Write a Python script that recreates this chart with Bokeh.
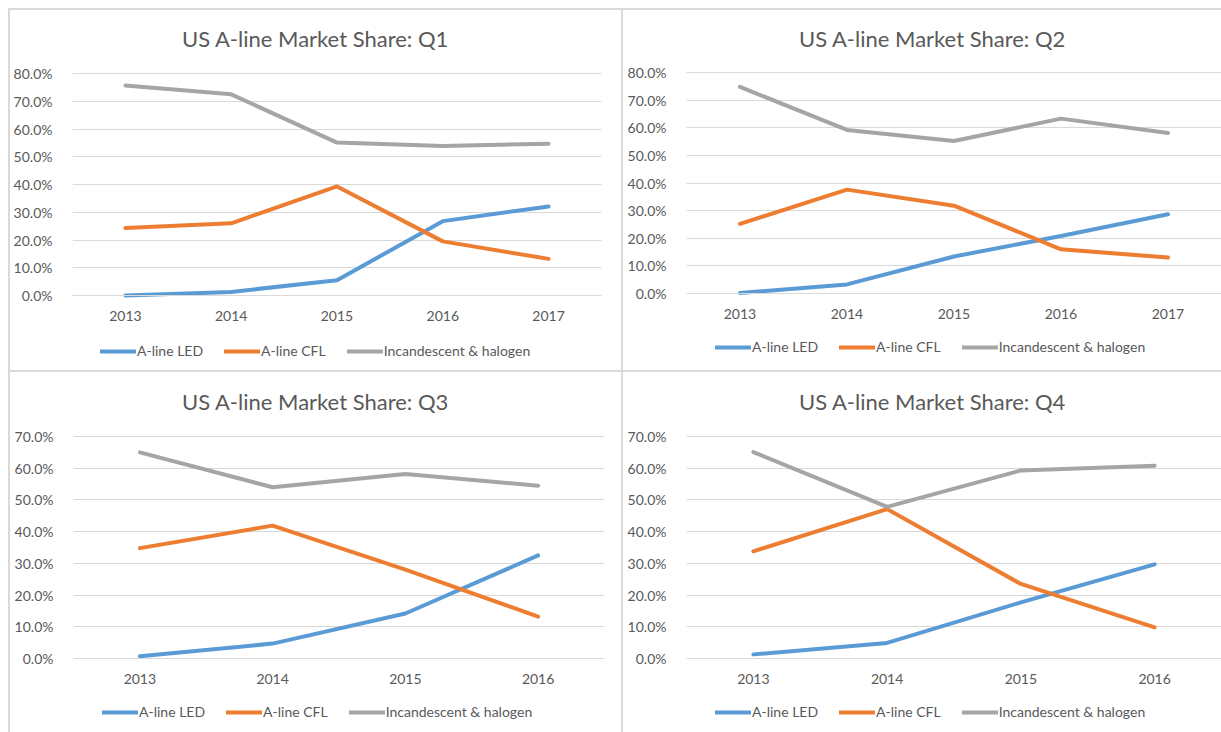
from bokeh.plotting import figure
from bokeh.layouts import column, row, Spacer
from bokeh.models import (Range1d, FactorRange, FixedTicker, PrintfTickFormatter,
                          Legend, LegendItem, Label)
from bokeh.embed import file_html
from bokeh.resources import INLINE

# ---------------- data ----------------
years_q12 = ["2013", "2014", "2015", "2016", "2017"]
years_q34 = ["2013", "2014", "2015", "2016"]

series_names = ["A-line LED", "A-line CFL", "Incandescent & halogen"]
series_colors = ["#5B9BD5", "#ED7D31", "#A5A5A5"]

q1_led = [0.0, 1.3, 5.5, 26.8, 32.1]
q1_cfl = [24.3, 26.0, 39.3, 19.5, 13.2]
q1_inc = [75.7, 72.5, 55.1, 53.9, 54.7]

q2_led = [0.2, 3.3, 13.4, 20.8, 28.7]
q2_cfl = [25.2, 37.6, 31.8, 16.0, 13.0]
q2_inc = [74.8, 59.2, 55.2, 63.3, 58.1]

q3_led = [0.7, 4.7, 14.2, 32.5]
q3_cfl = [34.8, 41.9, 28.0, 13.2]
q3_inc = [65.0, 54.0, 58.2, 54.5]

q4_led = [1.3, 4.9, 17.7, 29.7]
q4_cfl = [33.8, 47.1, 23.5, 9.8]
q4_inc = [65.1, 47.8, 59.3, 60.8]

y_ticks_80 = [0, 10, 20, 30, 40, 50, 60, 70, 80]
y_ticks_70 = [0, 10, 20, 30, 40, 50, 60, 70]

TEXT = "#595959"
GRID = "#D9D9D9"
FONT = "Lato"


def panel(title, years, series, yticks, w, h, bl, br, grid_top, grid_bottom,
          title_xy, legend_xy):
    # the frame spans the full height; the y range is chosen so that the
    # gridlines (ticks) sit where they do in the original
    ymax = yticks[-1]
    ppu = (grid_bottom - grid_top) / ymax
    y0 = -(h - grid_bottom) / ppu
    y1 = ymax + grid_top / ppu
    p = figure(width=w, height=h, x_range=FactorRange(factors=years),
               y_range=Range1d(y0, y1), output_backend="svg", title=None,
               toolbar_location=None, min_border_left=bl, min_border_right=br,
               min_border_top=0, min_border_bottom=0)
    p.outline_line_color = None
    p.background_fill_color = "white"
    p.border_fill_color = "white"
    p.xgrid.grid_line_color = None
    p.ygrid.grid_line_color = GRID
    p.ygrid.grid_line_width = 1
    p.yaxis.ticker = FixedTicker(ticks=yticks)
    p.yaxis.formatter = PrintfTickFormatter(format="%.1f%%")
    for ax in (p.xaxis[0], p.yaxis[0]):
        ax.major_tick_line_color = None
        ax.minor_tick_line_color = None
        ax.major_label_text_font = FONT
        ax.major_label_text_font_size = "14px"
        ax.major_label_text_color = TEXT
    p.yaxis.axis_line_color = None
    p.yaxis.major_label_standoff = 14
    p.xaxis.axis_line_color = GRID
    p.xaxis.major_label_standoff = 9
    p.xaxis.fixed_location = 0

    items = []
    for name, col, vals in zip(series_names, series_colors, series):
        r = p.line(x=years, y=vals, line_color=col, line_width=4,
                   line_join="round", line_cap="round")
        items.append(LegendItem(label=name, renderers=[r]))

    leg = Legend(items=items, orientation="horizontal", location=legend_xy,
                 border_line_color=None, background_fill_alpha=0,
                 glyph_width=36, glyph_height=16, label_standoff=1, spacing=21,
                 padding=0, margin=0, label_text_font=FONT,
                 label_text_font_size="14px", label_text_color=TEXT)
    p.add_layout(leg, "center")

    p.add_layout(Label(x=title_xy[0], y=title_xy[1], x_units="screen", y_units="screen",
                       text=title, text_align="center", text_baseline="middle",
                       text_font=FONT, text_font_size="22px", text_color=TEXT))
    return p


def vline(h):
    return Spacer(width=2, height=h, styles={"background-color": GRID})


def hline(w):
    return Spacer(width=w, height=2, styles={"background-color": GRID})


p1 = panel("US A-line Market Share: Q1", years_q12, [q1_led, q1_cfl, q1_inc], y_ticks_80,
           611, 360, 61, 20, 63, 285, (243, 332), (28, 11))
p2 = panel("US A-line Market Share: Q2", years_q12, [q2_led, q2_cfl, q2_inc], y_ticks_80,
           598, 360, 63, 0, 62, 283, (246, 332), (29, 15))
p3 = panel("US A-line Market Share: Q3", years_q34, [q3_led, q3_cfl, q3_inc], y_ticks_70,
           611, 360, 63, 17, 64, 286, (242, 331), (29, 12))
p4 = panel("US A-line Market Share: Q4", years_q34, [q4_led, q4_cfl, q4_inc], y_ticks_70,
           598, 360, 63, 0, 64, 286, (246, 331), (29, 12))

top = row(Spacer(width=8, height=364), vline(364),
          column(hline(611), p1, hline(611), spacing=0), vline(364),
          column(hline(598), p2, hline(598), spacing=0), spacing=0)
bottom = row(Spacer(width=8, height=360), vline(360), p3, vline(360), p4, spacing=0)

layout = column(Spacer(width=1221, height=8), top, bottom, spacing=0)

open("out.html", "w").write(file_html(layout, INLINE))
